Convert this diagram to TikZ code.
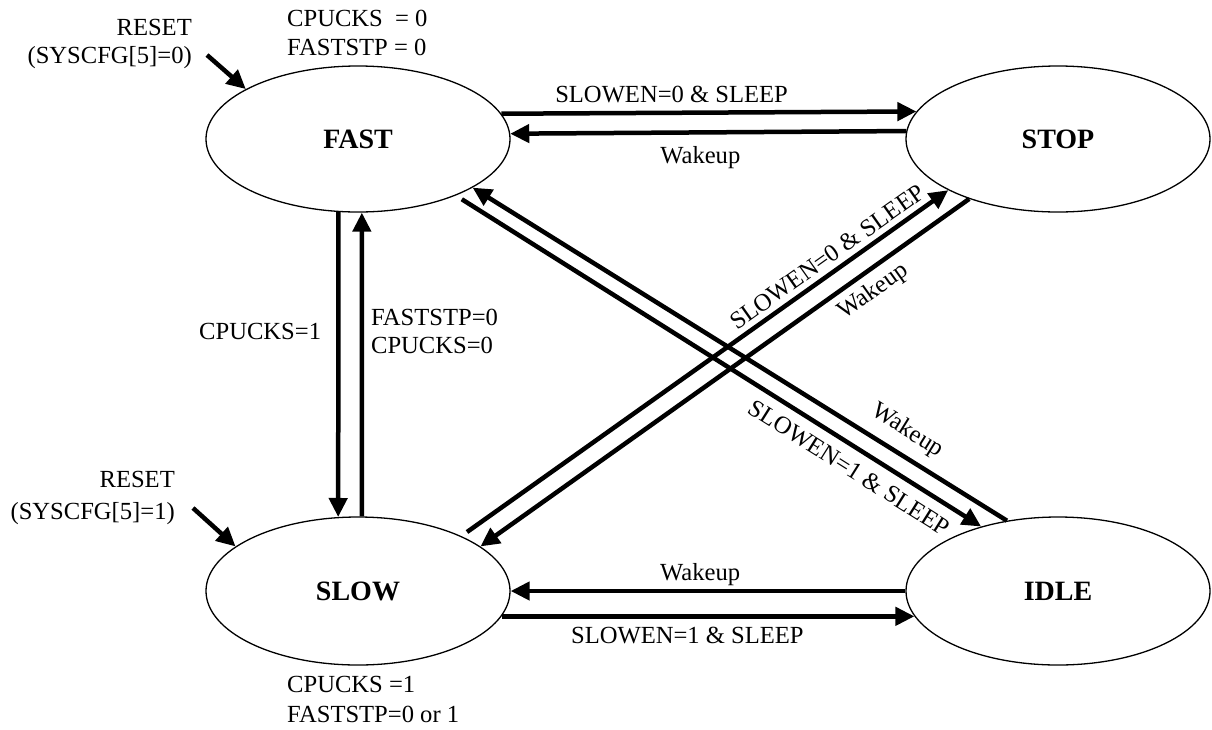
\documentclass[tikz,border=0pt]{standalone}
\usepackage{fontspec}
\setmainfont{Liberation Serif}
\usetikzlibrary{shapes.geometric,arrows.meta}
\begin{document}
\begin{tikzpicture}[x=1pt,y=-1pt,
  state/.style={draw, ellipse, line width=1.3pt, minimum width=304pt, minimum height=146pt, inner sep=0pt, font=\fontsize{28}{32}\selectfont\bfseries},
  trans/.style={line width=4.5pt, -{Triangle[length=19pt,width=18pt]}},
  lbl/.style={font=\fontsize{24.6}{28}\selectfont, inner sep=2pt},
  txt/.style={font=\fontsize{24.6}{28}\selectfont, inner sep=0pt}]
\useasboundingbox (0,0) rectangle (1212,729);

\node[state] (fast) at (358,139) {FAST};
\node[state] (stop) at (1058,139) {STOP};
\node[state, minimum height=148pt] (slow) at (358,591) {SLOW};
\node[state, minimum height=148pt] (idle) at (1058,591) {IDLE};

% horizontal top
\draw[trans] (fast.10.36) -- node[lbl, above=6pt, pos=0.41] (l1) {SLOWEN=0 \& SLEEP} (stop.169.64);
\draw[trans] (stop.177.73) -- node[lbl, below=10pt, pos=0.52] (l2) {Wakeup} (fast.2.27);

% vertical
\draw[trans] (fast.-105.4) -- node[lbl, left=13pt, pos=0.39] (l3) {CPUCKS=1} (slow.105.4);
\draw[trans] (slow.87.6) -- node[lbl, right=5pt, pos=0.61, align=left] (l4) {FASTSTP=0\\CPUCKS=0} (fast.-87.6);

% diagonals
\draw[trans, shorten <=7pt] (slow.28.6) -- node[lbl, sloped, above=3pt, pos=0.77] (l5) {SLOWEN=0 \& SLEEP} (stop.205.9);
\draw[trans] (stop.214.3) -- node[lbl, sloped, below=5pt, pos=0.22] (l6) {Wakeup} (slow.20.1);
\draw[trans, shorten <=7pt] (fast.-30.5) -- node[lbl, sloped, below=8pt, pos=0.77] (l7) {SLOWEN=1 \& SLEEP} (idle.140.6);
\draw[trans] (idle.126.1) -- node[lbl, sloped, above=8pt, pos=0.21] (l8) {Wakeup} (fast.-23.5);

% horizontal bottom
\draw[trans] (idle.180.75) -- node[lbl, above=1pt, pos=0.52] (l9) {Wakeup} (slow.-0.75);
\draw[trans] (slow.-10.35) -- node[lbl, below=7pt, pos=0.45] (l10) {SLOWEN=1 \& SLEEP} (idle.190.35);

% reset entries
\node[txt, align=right, anchor=north east] (reset1) at (192,18.7) {RESET\\(SYSCFG[5]=0)};
\coordinate (r1) at (207,55);
\draw[trans] (r1) -- (fast.156.5);
\node[txt, align=right, anchor=north east] (reset2) at (175,470.7) {RESET\\[4pt](SYSCFG[5]=1)};
\coordinate (r2) at (193,508);
\draw[trans] (r2) -- (slow.160);

% state settings
\node[txt, align=left, anchor=north west] (cfgfast) at (287,10.4) {CPUCKS\ \ = 0\\[1pt]FASTSTP = 0};
\node[txt, align=left, anchor=north west] (cfgslow) at (287,676.4) {CPUCKS =1\\[2pt]FASTSTP=0 or 1};
\end{tikzpicture}
\end{document}
